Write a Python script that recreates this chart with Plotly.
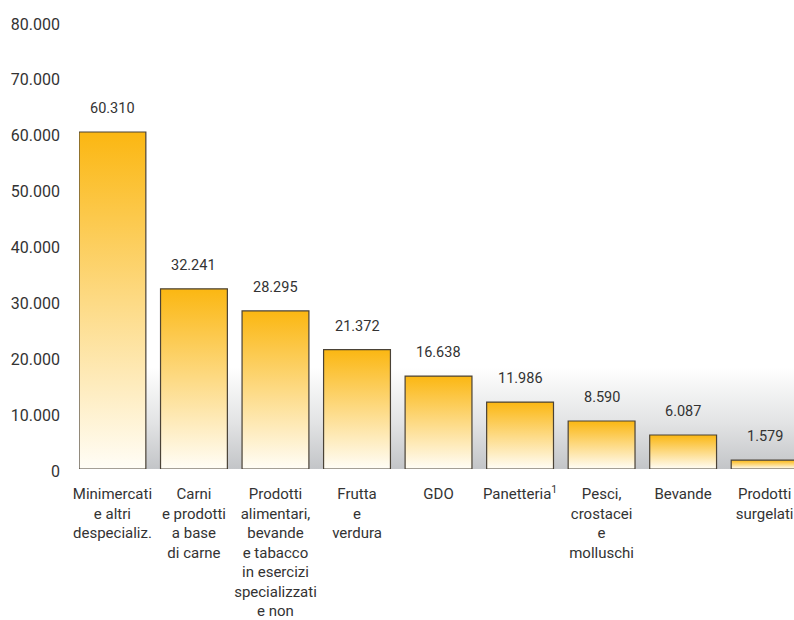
import plotly.graph_objects as go

# Esercizi commerciali per tipologia
categorie = [
    "Minimercati<br>e altri<br>despecializ.",
    "Carni<br>e prodotti<br>a base<br>di carne",
    "Prodotti<br>alimentari,<br>bevande<br>e tabacco<br>in esercizi<br>specializzati<br>e non",
    "Frutta<br>e<br>verdura",
    "GDO",
    "Panetteria<sup>1</sup>",
    "Pesci,<br>crostacei<br>e<br>molluschi",
    "Bevande",
    "Prodotti<br>surgelati",
]
valori = [60310, 32241, 28295, 21372, 16638, 11986, 8590, 6087, 1579]
tick_y = [0, 10000, 20000, 30000, 40000, 50000, 60000, 70000, 80000]

FONT = "Roboto, Liberation Sans, Arial, sans-serif"
TEXT_COL = "#333333"

X_MIN, X_MAX = -0.41, 8.36
Y_MAX = 80000
BAR_W = 0.82
BAND_TOP = 18200


def it_num(v):
    return f"{v:,}".replace(",", ".")


fig = go.Figure()

# grey shaded band at the foot of the plot area
fig.add_trace(go.Scatter(
    x=[X_MIN, X_MAX, X_MAX, X_MIN, X_MIN],
    y=[0, 0, BAND_TOP, BAND_TOP, 0],
    mode="lines", line=dict(width=0),
    fill="toself",
    fillgradient=dict(type="vertical",
                      colorscale=[[0, "#c3c5c8"], [0.45, "#e2e3e4"], [1, "#ffffff"]]),
    hoverinfo="skip", showlegend=False,
))

# bars with a vertical amber-to-cream gradient
for i, v in enumerate(valori):
    x0, x1 = i - BAR_W / 2, i + BAR_W / 2
    fig.add_trace(go.Scatter(
        x=[x0, x1, x1, x0, x0],
        y=[0, 0, v, v, 0],
        mode="lines",
        line=dict(color="#4a4236", width=1.2),
        fill="toself",
        fillgradient=dict(type="vertical",
                          colorscale=[[0, "#fffdf6"], [1, "#fbb712"]]),
        hoverinfo="skip", showlegend=False,
    ))
    fig.add_annotation(
        x=i, y=v, text=it_num(v), showarrow=False,
        yanchor="bottom", yshift=13,
        font=dict(family=FONT, size=14.5, color=TEXT_COL),
    )

fig.update_layout(
    width=794, height=620,
    margin=dict(l=79, r=0, t=22, b=151),
    paper_bgcolor="white", plot_bgcolor="white",
    separators=",.",
    showlegend=False,
)
fig.update_xaxes(
    range=[X_MIN, X_MAX], showgrid=False, zeroline=False, showline=False,
    tickmode="array", tickvals=list(range(len(categorie))), ticktext=categorie,
    tickangle=0, ticks="", ticklabelstandoff=14,
    tickfont=dict(family=FONT, size=15, color=TEXT_COL),
)
fig.update_yaxes(
    range=[0, Y_MAX], showgrid=False, zeroline=False, showline=False,
    tickmode="array", tickvals=tick_y, ticktext=[it_num(t) for t in tick_y],
    ticks="", ticklabelstandoff=18, ticklabelshift=2,
    tickfont=dict(family=FONT, size=16, color=TEXT_COL),
)

fig.write_html("out.html")
